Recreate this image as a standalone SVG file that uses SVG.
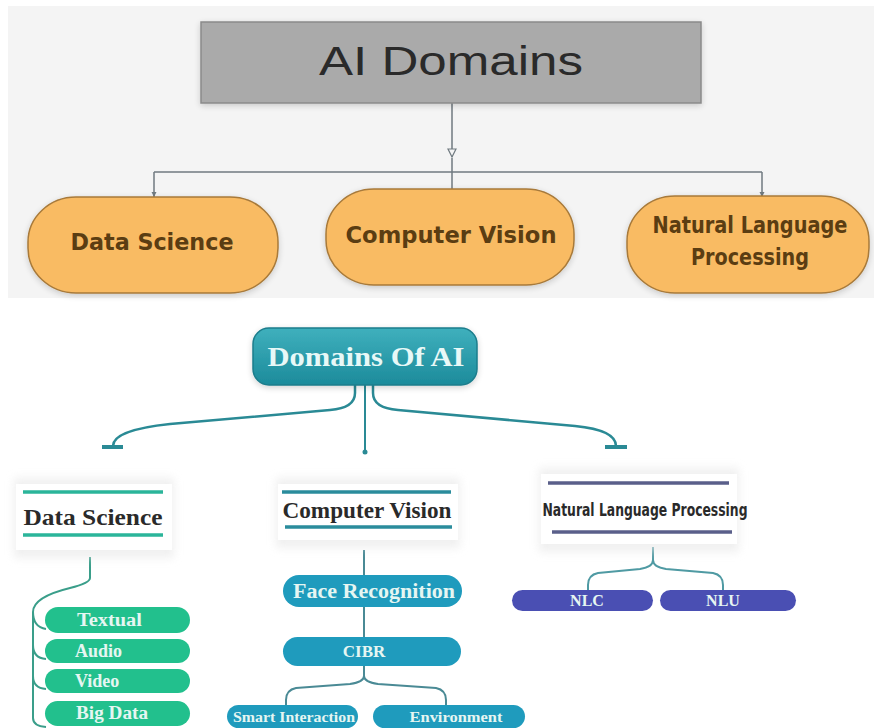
<svg xmlns="http://www.w3.org/2000/svg" width="874" height="728" viewBox="0 0 874 728">
<defs>
<linearGradient id="teal" x1="0" y1="0" x2="0" y2="1">
<stop offset="0" stop-color="#3fb0bd"/>
<stop offset="1" stop-color="#1c8b9b"/>
</linearGradient>
<filter id="sh" x="-20%" y="-30%" width="140%" height="160%">
<feGaussianBlur in="SourceAlpha" stdDeviation="3"/>
<feOffset dy="2"/>
<feComponentTransfer><feFuncA type="linear" slope="0.18"/></feComponentTransfer>
<feMerge><feMergeNode/><feMergeNode in="SourceGraphic"/></feMerge>
</filter>
<filter id="soft" x="-20%" y="-40%" width="140%" height="180%">
<feGaussianBlur stdDeviation="4"/>
</filter>
<marker id="hollow" viewBox="0 0 10 10" refX="9" refY="5" markerWidth="10" markerHeight="10" markerUnits="userSpaceOnUse" orient="auto">
<path d="M1,1 L9,5 L1,9 Z" fill="#f4f4f4" stroke="#707a80" stroke-width="1.2"/>
</marker>
<marker id="small" viewBox="0 0 6 6" refX="5.5" refY="3" markerWidth="6" markerHeight="6" markerUnits="userSpaceOnUse" orient="auto">
<path d="M0.5,0.5 L5.5,3 L0.5,5.5 Z" fill="#707a80"/>
</marker>
<style>
.orange{fill:#f9bb63;stroke:#a87a3a;stroke-width:1.5}
.otxt{font-family:"Liberation Sans Narrow","DejaVu Sans Condensed","Liberation Sans",sans-serif;font-weight:bold;font-size:23px;fill:#5b3d12;text-anchor:middle}
.serif{font-family:"Liberation Serif","DejaVu Serif",serif;font-weight:bold}
.head{fill:#2a2a2a;font-size:23px;text-anchor:middle}
.ptxt{fill:#e6f6f2;text-anchor:middle}
.ptxtl{fill:#e6f6f2;text-anchor:start}
.gline{stroke:#2bb59a;stroke-width:3.5}
.bline{stroke:#2a8c9c;stroke-width:3.5}
.pline{stroke:#5a5f8a;stroke-width:3.5}
.green{fill:#22c08d}
.blue{fill:#1f9bbd}
.purple{fill:#4a4fb3}
.card{fill:#ffffff}
.halo{fill:#e6e6e6;opacity:0.6}
</style>
</defs>

<rect x="8" y="6" width="866" height="292" fill="#f4f4f4"/>

<g id="connectors">
<path d="M452,103 V157" fill="none" stroke="#707a80" stroke-width="1.5" marker-end="url(#hollow)"/>
<path d="M452,158 V190 M154,172 H762" fill="none" stroke="#707a80" stroke-width="1.5"/>
<path d="M154,172 V197" fill="none" stroke="#707a80" stroke-width="1.5" marker-end="url(#small)"/>
<path d="M762,172 V197" fill="none" stroke="#707a80" stroke-width="1.5" marker-end="url(#small)"/>

<path d="M355,385 V393 Q355,408 330,410 L170,424 Q113,430 113,446" fill="none" stroke="#2a8a95" stroke-width="2.5"/>
<path d="M102,447 H123" stroke="#2a8a95" stroke-width="4"/>
<path d="M365,385 V452" fill="none" stroke="#2a8a95" stroke-width="2"/>
<circle cx="365" cy="452" r="2.5" fill="#2a8a95"/>
<path d="M373,385 V393 Q373,408 398,410 L575,426 Q616,430 616,446" fill="none" stroke="#2a8a95" stroke-width="2.5"/>
<path d="M605,447 H627" stroke="#2a8a95" stroke-width="4"/>

<path d="M90,557 V578 Q90,583 70,588 Q33,597 33,612 V718 Q33,726 46,727" fill="none" stroke="#3a9e8a" stroke-width="2"/>
<path d="M33,612 Q33,627 46,629 M33,645 Q33,658 46,659 M33,676 Q33,688 46,689" fill="none" stroke="#3a9e8a" stroke-width="2"/>

<path d="M364,550 V676 Q364,682 350,684 L296,688 Q286,690 286,700 V706 M364,676 Q364,682 378,684 L436,688 Q446,690 446,700 V706" fill="none" stroke="#4a8a95" stroke-width="2"/>

<path d="M653,547 V560 Q653,567 640,569 L598,573 Q588,575 588,585 V590 M653,560 Q653,567 666,569 L713,573 Q723,575 723,585 V590" fill="none" stroke="#4f9aa3" stroke-width="2"/>
</g>

<g id="ai-domains">
<rect x="201" y="22" width="500" height="81" fill="#aaaaaa" stroke="#8a8a8a" stroke-width="1.5" filter="url(#sh)"/>
<text x="451" y="75" font-family="'Liberation Sans','DejaVu Sans',sans-serif" font-size="41" fill="#2a2a2a" text-anchor="middle" textLength="264" lengthAdjust="spacingAndGlyphs">AI Domains</text>
</g>

<g id="top-data-science">
<rect class="orange" x="28" y="197" width="250" height="96" rx="48" ry="45" filter="url(#sh)"/>
<text class="otxt" x="152" y="250" textLength="163" lengthAdjust="spacingAndGlyphs">Data Science</text>
</g>
<g id="top-computer-vision">
<rect class="orange" x="326" y="189" width="248" height="96" rx="48" ry="45" filter="url(#sh)"/>
<text class="otxt" x="451" y="243" textLength="211" lengthAdjust="spacingAndGlyphs">Computer Vision</text>
</g>
<g id="top-nlp">
<rect class="orange" x="627" y="196" width="242" height="97" rx="48" ry="45" filter="url(#sh)"/>
<text class="otxt" x="750" y="233" font-size="21" textLength="195" lengthAdjust="spacingAndGlyphs">Natural Language</text>
<text class="otxt" x="750" y="265" font-size="21" textLength="118" lengthAdjust="spacingAndGlyphs">Processing</text>
</g>

<g id="domains-of-ai">
<rect x="253" y="328" width="224" height="57" rx="16" fill="url(#teal)" stroke="#1b7d8c" stroke-width="1.5" filter="url(#sh)"/>
<text class="serif" x="366" y="366" font-size="28" fill="#e8f8f7" text-anchor="middle" textLength="197" lengthAdjust="spacingAndGlyphs">Domains Of AI</text>
</g>

<g id="data-science">
<rect class="halo" x="14" y="478" width="160" height="80" filter="url(#soft)"/>
<rect class="card" x="16" y="484" width="156" height="66"/>
<line class="gline" x1="23" y1="492" x2="163" y2="492"/>
<text class="serif head" x="93" y="525" textLength="139" lengthAdjust="spacingAndGlyphs">Data Science</text>
<line class="gline" x1="23" y1="535" x2="163" y2="535"/>
</g>

<g id="textual">
<rect class="green" x="45" y="607" width="145" height="26" rx="13"/>
<text class="serif ptxtl" x="77" y="626" font-size="18" textLength="65" lengthAdjust="spacingAndGlyphs">Textual</text>
</g>
<g id="audio">
<rect class="green" x="45" y="639" width="145" height="24" rx="12"/>
<text class="serif ptxtl" x="75" y="657" font-size="18">Audio</text>
</g>
<g id="video">
<rect class="green" x="45" y="669" width="145" height="24" rx="12"/>
<text class="serif ptxtl" x="75" y="687" font-size="18">Video</text>
</g>
<g id="big-data">
<rect class="green" x="45" y="701" width="145" height="25" rx="12.5"/>
<text class="serif ptxtl" x="76" y="719" font-size="18" textLength="72" lengthAdjust="spacingAndGlyphs">Big Data</text>
</g>

<g id="computer-vision">
<rect class="halo" x="276" y="478" width="184" height="70" filter="url(#soft)"/>
<rect class="card" x="278" y="484" width="180" height="56"/>
<line class="bline" x1="282" y1="492" x2="451" y2="492"/>
<text class="serif head" x="367" y="518" textLength="169" lengthAdjust="spacingAndGlyphs">Computer Vision</text>
<line class="bline" x1="285" y1="527" x2="452" y2="527"/>
</g>

<g id="face-recognition">
<rect class="blue" x="283" y="575" width="179" height="32" rx="16"/>
<text class="serif ptxt" x="374" y="598" font-size="20" textLength="162" lengthAdjust="spacingAndGlyphs">Face Recognition</text>
</g>
<g id="cibr">
<rect class="blue" x="283" y="637" width="178" height="29" rx="14.5"/>
<text class="serif ptxt" x="364" y="657" font-size="17">CIBR</text>
</g>
<g id="smart-interaction">
<rect class="blue" x="227" y="705" width="131" height="23" rx="11.5"/>
<text class="serif ptxt" x="294" y="722" font-size="15" textLength="122" lengthAdjust="spacingAndGlyphs">Smart Interaction</text>
</g>
<g id="environment">
<rect class="blue" x="373" y="705" width="152" height="23" rx="11.5"/>
<text class="serif ptxt" x="456" y="722" font-size="15" textLength="93" lengthAdjust="spacingAndGlyphs">Environment</text>
</g>

<g id="nlp">
<rect class="halo" x="539" y="468" width="200" height="84" filter="url(#soft)"/>
<rect class="card" x="541" y="474" width="196" height="70"/>
<line class="pline" x1="548" y1="483" x2="729" y2="483"/>
<text x="645" y="516" font-family="'Liberation Sans Narrow','DejaVu Sans Condensed','Liberation Sans',sans-serif" font-weight="bold" font-size="18" fill="#2a2a2a" text-anchor="middle" textLength="205" lengthAdjust="spacingAndGlyphs">Natural Language Processing</text>
<line class="pline" x1="552" y1="532" x2="732" y2="532"/>
</g>

<g id="nlc">
<rect class="purple" x="512" y="590" width="141" height="21" rx="10.5"/>
<text class="serif ptxt" x="587" y="606" font-size="16" fill="#e4e6f6">NLC</text>
</g>
<g id="nlu">
<rect class="purple" x="660" y="590" width="136" height="21" rx="10.5"/>
<text class="serif ptxt" x="723" y="606" font-size="16" fill="#e4e6f6">NLU</text>
</g>
</svg>
